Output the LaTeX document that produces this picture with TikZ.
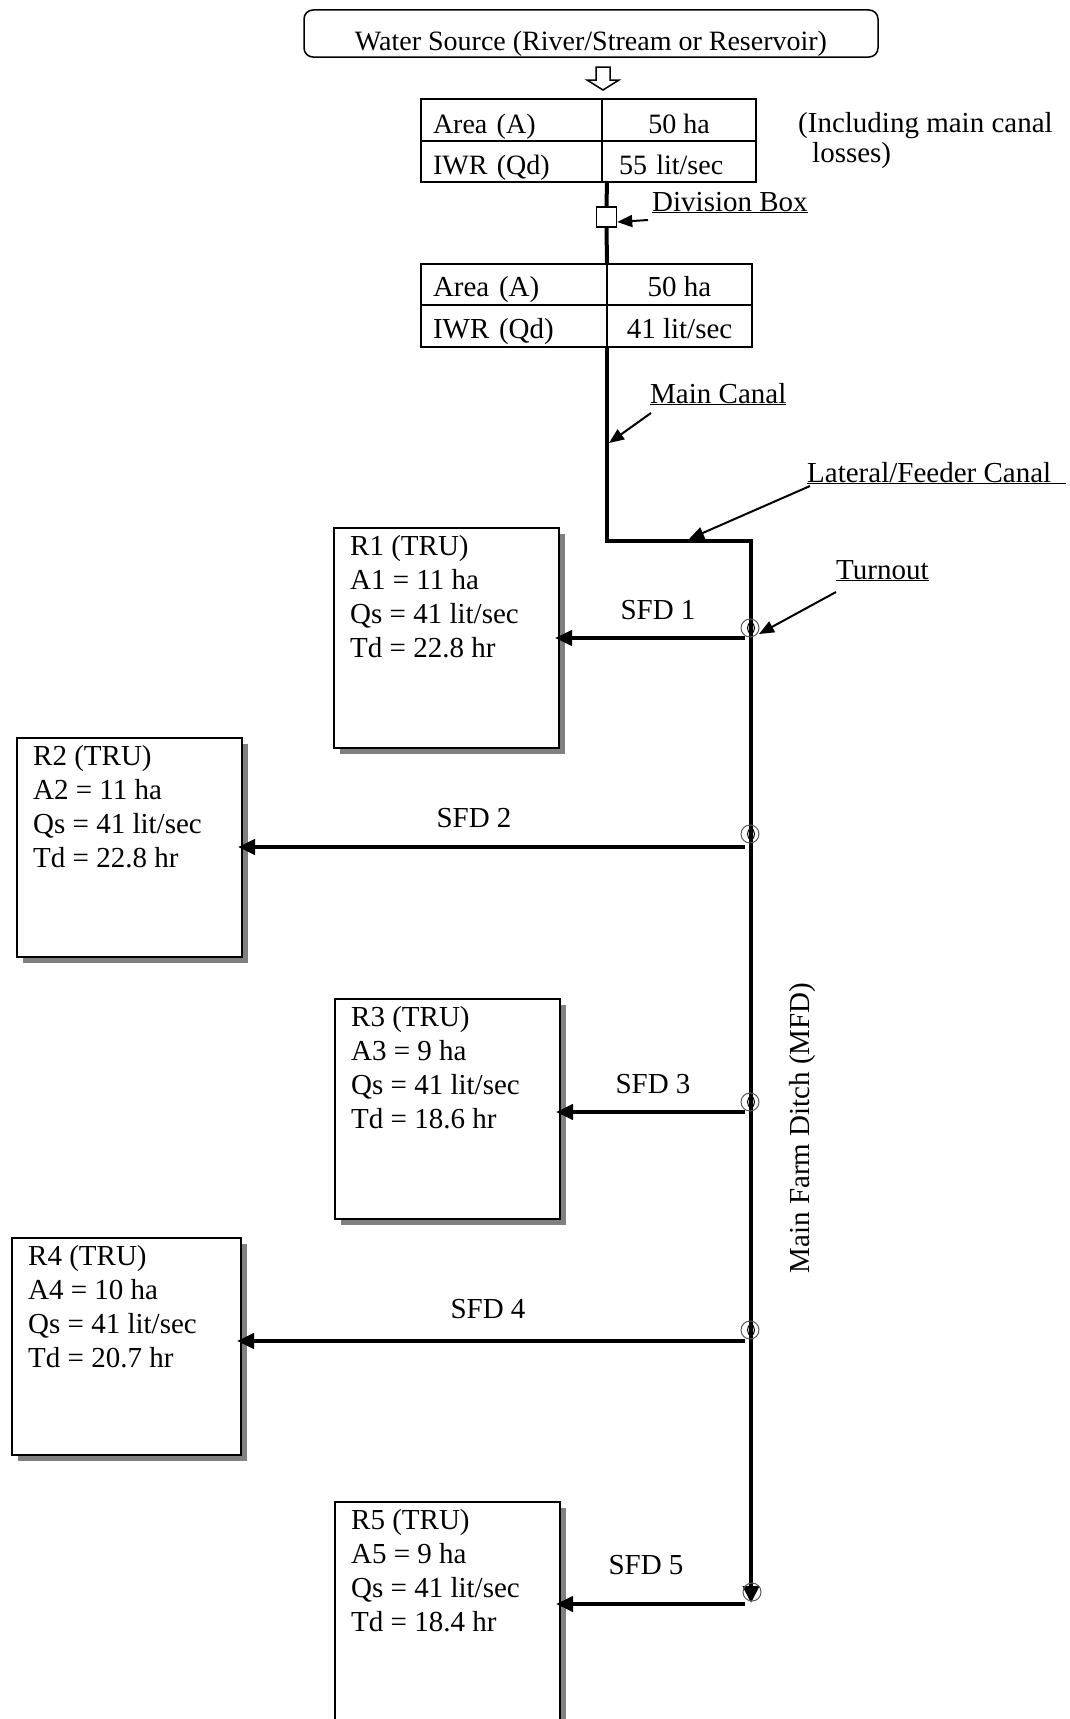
\documentclass[tikz,border=0pt]{standalone}
\usepackage{fontspec}
\setmainfont{Liberation Serif}
\usetikzlibrary{arrows.meta,shadows,shapes.geometric}
\begin{document}
\begin{tikzpicture}[x=1bp,y=-1bp,
  every node/.style={font=\fontsize{29bp}{34bp}\selectfont, inner sep=0pt},
  tfA/.style={font=\fontsize{28bp}{32bp}\selectfont},
  cellL/.style={draw, line width=2bp, anchor=north west, align=left, inner xsep=12bp, text width=#1, text depth=0bp},
  cellR/.style={draw, line width=2bp, anchor=north west, align=center, minimum width=#1, text depth=0bp},
  rbox/.style={draw, line width=2bp, fill=white, anchor=north west, minimum width=225bp, minimum height=220bp,
    drop shadow={shadow xshift=6bp, shadow yshift=-6bp, fill=gray, opacity=1}},
  rtext/.style={anchor=north west, align=left},
  lbl/.style={anchor=base west},
  canal/.style={line width=4bp},
  sfd/.style={line width=4bp, -{Triangle[length=17bp,width=15bp]}, shorten >=-5bp},
  ann/.style={line width=2bp, -{Triangle[length=15bp,width=12bp]}},
  tout/.style={circle, draw=gray!70!black, line width=1bp, minimum size=18bp},
  tin/.style={ellipse, draw, line width=1bp, minimum width=7bp, minimum height=11bp}
]
\useasboundingbox (0,0) rectangle (1069,1719);
\clip (0,0) rectangle (1069,1719);

% water source
\node[draw, rounded corners=9bp, line width=1.5bp, minimum width=574bp, minimum height=47bp,
  font=\fontsize{28bp}{32bp}\selectfont] (ws) at (591,33.5)
  {\raisebox{-16.5bp}[0pt][0pt]{Water Source (River/Stream or Reservoir)}};
\draw[line width=1.5bp, fill=white, line join=miter] (596,67) -- (610,67) -- (610,80) -- (619,80) -- (603,90) -- (587,80) -- (596,80) -- cycle;

% table 1
\node[cellL=157bp, tfA, minimum height=42bp, text height=26bp] (t1a) at (420,98) {Area (A)};
\node[cellR=154bp, tfA, minimum height=42bp, text height=26bp] (t1b) at (601,98) {50 ha};
\node[cellL=157bp, tfA, minimum height=41bp, text height=25bp] (t1c) at (420,140) {IWR (Qd)};
\node[cellL=120bp, tfA, inner xsep=17bp, minimum height=41bp, text height=25bp] (t1d) at (601,140) {55 lit/sec};
\node[anchor=north west, align=left, font=\fontsize{29bp}{30bp}\selectfont] (incl) at (798,112)
  {(Including main canal\\\hspace*{14bp}losses)};

% division box
\node[draw, line width=1.5bp, fill=white, minimum size=20bp] (db) at (606.5,217) {};
\draw[canal] (607,181) -- (db.north);
\draw[canal] (db.south) -- (607,263);
\node[lbl] (dbl) at (652,211) {\underline{Division Box}};
\coordinate (dba) at (648,220);
\draw[ann] (dba) -- ([yshift=-5bp]db.east);

% table 2
\node[cellL=162bp, minimum height=41bp, text height=23bp] (t2a) at (420,263) {Area (A)};
\node[cellR=145bp, minimum height=41bp, text height=23bp] (t2b) at (606,263) {50 ha};
\node[cellL=162bp, minimum height=42bp, text height=24bp] (t2c) at (420,304) {IWR (Qd)};
\node[cellR=145bp, minimum height=42bp, text height=24bp] (t2d) at (606,304) {41 lit/sec};

% main canal, lateral, MFD
\coordinate (lat) at (607,541);
\coordinate (cor) at (751,541);
\coordinate (mfdend) at (751,1603);
\draw[canal, line join=miter, -{Triangle[length=17bp,width=16bp]}] (t2d.south west) ++(1,0) -- (lat) -- (cor) -- (mfdend);

\node[lbl] (mcl) at (650,403) {\underline{Main Canal}};
\coordinate (mca) at (651,413);
\draw[ann] (mca) -- (609,443);

\node[lbl] (lfl) at (807,482) {\underline{Lateral/Feeder Canal\ \ }};
\coordinate (lfa) at (810,486);
\draw[ann] (lfa) -- (689,539);

\node[lbl] (tol) at (836,579) {\underline{Turnout}};
\coordinate (toa) at (836,592);
\draw[ann] (toa) -- (759,634);

% turnouts
\foreach \i/\y in {1/628,2/834,3/1102,4/1330} {
  \node[tout] (to\i) at (750,\y) {};
  \node[tin] (ti\i) at (751,\y) {};
}
\node[tout] (to5) at (752,1592) {};

% R boxes
\node[rbox] (r1) at (333,527) {};
\node[rbox, minimum height=219bp] (r2) at (16,737) {};
\node[rbox] (r3) at (334,998) {};
\node[rbox, minimum width=229bp, minimum height=217bp] (r4) at (11,1237) {};
\node[rbox, minimum height=230bp] (r5) at (334,1501) {};

\node[rtext] (r1t) at ([xshift=17bp,yshift=-8bp]r1.north west) {R1 (TRU)\\A1 = 11 ha\\Qs = 41 lit/sec\\Td = 22.8 hr};
\node[rtext] (r2t) at ([xshift=17bp,yshift=-8bp]r2.north west) {R2 (TRU)\\A2 = 11 ha\\Qs = 41 lit/sec\\Td = 22.8 hr};
\node[rtext] (r3t) at ([xshift=17bp,yshift=-8bp]r3.north west) {R3 (TRU)\\A3 = 9 ha\\Qs = 41 lit/sec\\Td = 18.6 hr};
\node[rtext] (r4t) at ([xshift=17bp,yshift=-8bp]r4.north west) {R4 (TRU)\\A4 = 10 ha\\Qs = 41 lit/sec\\Td = 20.7 hr};
\node[rtext] (r5t) at ([xshift=17bp,yshift=-8bp]r5.north west) {R5 (TRU)\\A5 = 9 ha\\Qs = 41 lit/sec\\Td = 18.4 hr};

% SFD arrows
\coordinate (s1) at (745,638);
\coordinate (s2) at (745,847);
\coordinate (s3) at (745,1112);
\coordinate (s4) at (745,1341);
\coordinate (s5) at (745,1604);
\draw[sfd] (s1) -- (s1 -| r1.east);
\draw[sfd] (s2) -- (s2 -| r2.east);
\draw[sfd] (s3) -- (s3 -| r3.east);
\draw[sfd] (s4) -- (s4 -| r4.east);
\draw[sfd] (s5) -- (s5 -| r5.east);

\node (sfd1) at (658,610) {SFD 1};
\node (sfd2) at (474,818) {SFD 2};
\node (sfd3) at (653,1084) {SFD 3};
\node (sfd4) at (488,1309) {SFD 4};
\node (sfd5) at (646,1565) {SFD 5};

\node[rotate=90] (mfdl) at (803,1128) {Main Farm Ditch (MFD)};
\end{tikzpicture}
\end{document}
